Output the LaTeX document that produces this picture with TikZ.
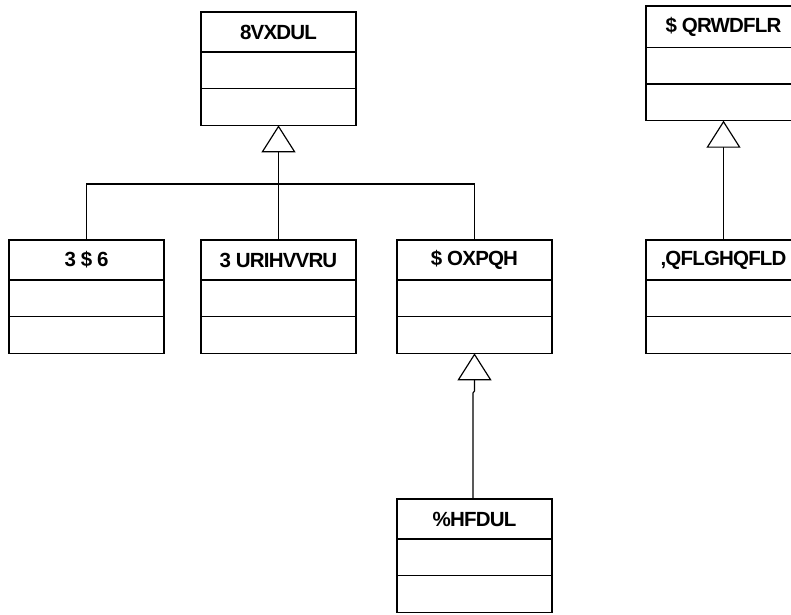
\documentclass[tikz,border=0pt]{standalone}
\usepackage{fontspec}
\setmainfont{Liberation Sans}[LetterSpace=-4]
\usetikzlibrary{positioning,arrows.meta}

\tikzset{
  classhead/.style={draw=black, line width=1pt, minimum width=4.65cm, minimum height=1.2cm,
    inner sep=0pt, outer sep=0pt, font=\fontsize{17.5}{20}\selectfont\bfseries},
  classpart/.style={draw=black, line width=1pt, minimum width=4.65cm, minimum height=1.1cm,
    inner sep=0pt, outer sep=0pt},
  inherit/.style={line width=1pt, -{Triangle[fill=white, length=0.81cm, width=1.02cm]}},
  link/.style={line width=1pt}
}

\begin{document}
\begin{tikzpicture}[x=0.03cm, y=-0.03cm]
    \useasboundingbox (0,0) rectangle (791,614);
    \clip (0,0) rectangle (791,614);

    % superclasses
    \node[classhead, anchor=north west] (usuari) at (201,12) {8VXDUL};
    \node[classpart, below=0pt of usuari] (usuari-a) {};
    \node[classpart, below=0pt of usuari-a] (usuari-b) {};

    \node[classhead, anchor=north west, minimum height=1.24cm] (anotacio) at (646,6) {\$ QRWDFLR};
    \node[classpart, below=0pt of anotacio] (anotacio-a) {};
    \node[classpart, below=0pt of anotacio-a] (anotacio-b) {};

    % subclasses
    \node[classhead, anchor=north west] (pas) at (9,240) {3 \$ 6};
    \node[classpart, below=0pt of pas] (pas-a) {};
    \node[classpart, below=0pt of pas-a] (pas-b) {};

    \node[classhead, anchor=north west] (professor) at (201,240) {3 URIHVVRU};
    \node[classpart, below=0pt of professor] (professor-a) {};
    \node[classpart, below=0pt of professor-a] (professor-b) {};

    \node[classhead, anchor=north west] (alumne) at (397,240) {\$ OXPQH};
    \node[classpart, below=0pt of alumne] (alumne-a) {};
    \node[classpart, below=0pt of alumne-a] (alumne-b) {};

    \node[classhead, anchor=north west] (incidencia) at (646,240) {,QFLGHQFLD};
    \node[classpart, below=0pt of incidencia] (incidencia-a) {};
    \node[classpart, below=0pt of incidencia-a] (incidencia-b) {};

    \node[classhead, anchor=north west] (becari) at (397,499) {\%HFDUL};
    \node[classpart, below=0pt of becari] (becari-a) {};
    \node[classpart, below=0pt of becari-a] (becari-b) {};

    % generalisations
    \coordinate (bus) at (0,184);
    \coordinate (jog) at (473,393);
    \draw[link] (pas.north) -- (pas.north |- bus) -- (alumne.north |- bus) -- (alumne.north);
    \draw[inherit] (professor.north) -- (usuari-b.south);
    \draw[inherit] (incidencia.north) -- (anotacio-b.south);
    \draw[inherit] (becari.north -| jog) -- (jog) -- (alumne-b.south |- 0,391) -- (alumne-b.south);
\end{tikzpicture}
\end{document}
